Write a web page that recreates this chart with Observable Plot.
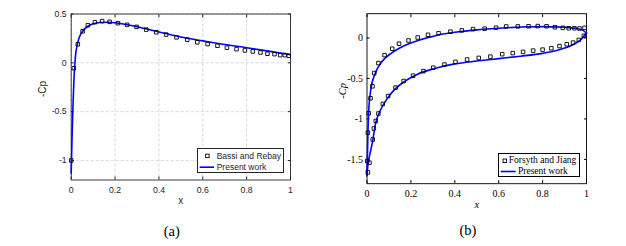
<!DOCTYPE html>
<html>
<head>
<meta charset="utf-8">
<script src="https://cdn.jsdelivr.net/npm/d3@7"></script>
<script src="https://cdn.jsdelivr.net/npm/@observablehq/plot@0.6"></script>
<style>
  html, body { margin: 0; padding: 0; background: #fff; }
  #wrap { position: relative; width: 626px; height: 246px; overflow: hidden; background: #fff; }
  #wrap > svg { position: absolute; top: 0; }
  .legend { position: absolute; background: #fff; box-sizing: border-box; }
  .legend span { position: absolute; white-space: nowrap; line-height: 1; }
  .legend svg { position: absolute; left: 0; top: 0; overflow: visible; }
  .cap { position: absolute; font-family: "Liberation Serif", serif; font-size: 14.5px; color: #000; transform: translate(-50%, -50%); line-height: 1; }
</style>
</head>
<body>
<div id="wrap"></div>
<script>
// ---------- Panel (a) data ----------
const aRefX = [0, 0.012, 0.03, 0.052, 0.076, 0.108, 0.141, 0.175, 0.213, 0.255, 0.298, 0.342, 0.388, 0.433, 0.48, 0.529, 0.575, 0.622, 0.667, 0.71, 0.754, 0.792, 0.828, 0.863, 0.895, 0.927, 0.953, 0.974, 0.992];
const aRefY = [-1.0, -0.055, 0.19, 0.323, 0.385, 0.416, 0.427, 0.42, 0.406, 0.389, 0.368, 0.34, 0.313, 0.289, 0.261, 0.237, 0.21, 0.192, 0.175, 0.155, 0.14, 0.127, 0.117, 0.106, 0.093, 0.089, 0.079, 0.079, 0.072];
const aLineX = [0, 0.004, 0.008, 0.012, 0.016, 0.02, 0.027, 0.035, 0.045, 0.06, 0.08, 0.1, 0.13, 0.17, 0.2, 0.3, 0.4, 0.5, 0.6, 0.7, 0.8, 0.9, 1];
const aLineY = [-1.13, -0.75, -0.45, -0.2, -0.03, 0.08, 0.18, 0.25, 0.3, 0.345, 0.38, 0.4, 0.413, 0.415, 0.41, 0.37, 0.315, 0.265, 0.225, 0.187, 0.155, 0.12, 0.083];
const aXTicks = [0, 0.2, 0.4, 0.6, 0.8, 1];
const aYTicks = [-1, -0.5, 0, 0.5];
const aLegend = ["Bassi and Rebay", "Present work"];

// ---------- Panel (b) data ----------
const bUpRefX = [0.001, 0.004, 0.008, 0.016, 0.025, 0.033, 0.052, 0.08, 0.115, 0.146, 0.189, 0.231, 0.278, 0.326, 0.38, 0.432, 0.483, 0.536, 0.588, 0.634, 0.687, 0.736, 0.778, 0.818, 0.856, 0.892, 0.919, 0.945, 0.968, 0.991];
const bUpRefY = [-1.52, -1.17, -0.93, -0.745, -0.597, -0.433, -0.31, -0.212, -0.133, -0.071, -0.031, 0.006, 0.039, 0.059, 0.078, 0.094, 0.11, 0.115, 0.127, 0.142, 0.143, 0.145, 0.147, 0.145, 0.133, 0.125, 0.12, 0.12, 0.117, 0.125];
const bLoRefX = [0.004, 0.011, 0.026, 0.031, 0.04, 0.052, 0.072, 0.096, 0.13, 0.167, 0.21, 0.257, 0.302, 0.353, 0.403, 0.456, 0.509, 0.562, 0.616, 0.664, 0.711, 0.757, 0.8, 0.84, 0.877, 0.91, 0.939, 0.965, 0.988];
const bLoRefY = [-1.66, -1.54, -1.254, -1.118, -1.025, -0.933, -0.815, -0.717, -0.613, -0.532, -0.466, -0.409, -0.367, -0.328, -0.295, -0.266, -0.246, -0.23, -0.2, -0.187, -0.172, -0.156, -0.144, -0.127, -0.1, -0.078, -0.057, -0.024, 0.027];
const bUpLineX = [0, 0.004, 0.008, 0.013, 0.019, 0.031, 0.045, 0.061, 0.08, 0.107, 0.135, 0.167, 0.2, 0.243, 0.3, 0.334, 0.4, 0.5, 0.6, 0.7, 0.8, 0.9, 0.95, 0.98, 1];
const bUpLineY = [-1.7, -1.2, -0.89, -0.73, -0.606, -0.483, -0.39, -0.318, -0.255, -0.195, -0.145, -0.1, -0.062, -0.022, 0.02, 0.043, 0.07, 0.1, 0.12, 0.135, 0.14, 0.132, 0.12, 0.1, 0.06];
const bLoLineX = [0, 0.005, 0.012, 0.024, 0.039, 0.061, 0.092, 0.122, 0.167, 0.228, 0.304, 0.4, 0.5, 0.6, 0.7, 0.8, 0.85, 0.9, 0.94, 0.97, 1];
const bLoLineY = [-1.7, -1.55, -1.45, -1.3, -1.057, -0.893, -0.749, -0.647, -0.544, -0.45, -0.379, -0.32, -0.285, -0.255, -0.225, -0.19, -0.165, -0.125, -0.08, -0.03, 0.06];
const bXTicks = [0, 0.2, 0.4, 0.6, 0.8, 1];
const bYTicks = [-1.5, -1, -0.5, 0];
const bLegend = ["Forsyth and Jiang", "Present work"];

const BLUE = "#0000ff";
const zipXY = (xs, ys) => xs.map((x, i) => ({x, y: ys[i]}));
const fmt = d => String(d);

const wrap = document.getElementById("wrap");

// ---------- Panel (a) ----------
const axA = "#262626";
const plotA = Plot.plot({
  width: 313, height: 246,
  marginLeft: 70.7, marginRight: 23, marginTop: 13.5, marginBottom: 66.5,
  x: {domain: [0, 1]},
  y: {domain: [-1.2, 0.5]},
  style: {fontFamily: "'Liberation Sans', Arial, sans-serif", fontSize: "8.7px", color: axA, background: "transparent", overflow: "visible"},
  marks: [
    Plot.gridX(aXTicks, {stroke: "#cfcfcf", strokeOpacity: 1, strokeWidth: 0.8, strokeDasharray: "3,2"}),
    Plot.gridY(aYTicks, {stroke: "#cfcfcf", strokeOpacity: 1, strokeWidth: 0.8, strokeDasharray: "3,2"}),
    Plot.axisX(aXTicks, {anchor: "bottom", tickSize: -3, tickPadding: 10, tickFormat: fmt, label: null, stroke: axA}),
    Plot.axisX(aXTicks, {anchor: "top", tickSize: -3, tickFormat: () => "", label: null, stroke: axA}),
    Plot.axisY(aYTicks, {anchor: "left", tickSize: -3, tickPadding: 7.5, tickFormat: fmt, label: null, stroke: axA}),
    Plot.axisY(aYTicks, {anchor: "right", tickSize: -3, tickFormat: () => "", label: null, stroke: axA}),
    Plot.frame({stroke: axA, strokeWidth: 0.9}),
    Plot.line(zipXY(aLineX, aLineY), {x: "x", y: "y", stroke: BLUE, strokeWidth: 1.6, curve: "monotone-x"}),
    Plot.dot(zipXY(aRefX, aRefY), {x: "x", y: "y", symbol: "square", r: 2, stroke: "#000", strokeWidth: 0.9, fill: "none"}),
    Plot.text(["x"], {text: d => d, frameAnchor: "bottom", dy: 24, fontSize: 10, fill: axA}),
    Plot.text(["-Cp"], {text: d => d, frameAnchor: "left", rotate: -90, dx: -28, fontSize: 10, fill: axA})
  ]
});
plotA.style.left = "0px";
wrap.appendChild(plotA);

// ---------- Panel (b) ----------
const axB = "#000";
const plotB = Plot.plot({
  width: 313, height: 246,
  marginLeft: 53.5, marginRight: 40, marginTop: 13.2, marginBottom: 62.8,
  x: {domain: [0, 1]},
  y: {domain: [-1.8, 0.3]},
  style: {fontFamily: "'Liberation Serif', 'Times New Roman', serif", fontSize: "10px", color: axB, background: "transparent", overflow: "visible"},
  marks: [
    Plot.axisX(bXTicks, {anchor: "bottom", tickSize: -3, tickPadding: 9.5, tickFormat: fmt, label: null, stroke: axB}),
    Plot.axisX(bXTicks, {anchor: "top", tickSize: -3, tickFormat: () => "", label: null, stroke: axB}),
    Plot.axisY(bYTicks, {anchor: "left", tickSize: -3, tickPadding: 7, tickFormat: fmt, label: null, stroke: axB}),
    Plot.axisY(bYTicks, {anchor: "right", tickSize: -3, tickFormat: () => "", label: null, stroke: axB}),
    Plot.frame({stroke: axB, strokeWidth: 0.9}),
    Plot.line(zipXY(bUpLineX, bUpLineY), {x: "x", y: "y", stroke: BLUE, strokeWidth: 1.6, curve: "monotone-x"}),
    Plot.line(zipXY(bLoLineX, bLoLineY), {x: "x", y: "y", stroke: BLUE, strokeWidth: 1.6, curve: "monotone-x"}),
    Plot.dot(zipXY(bUpRefX, bUpRefY), {x: "x", y: "y", symbol: "square", r: 2, stroke: "#000", strokeWidth: 0.9, fill: "none"}),
    Plot.dot(zipXY(bLoRefX, bLoRefY), {x: "x", y: "y", symbol: "square", r: 2, stroke: "#000", strokeWidth: 0.9, fill: "none"}),
    Plot.text(["x"], {text: d => d, frameAnchor: "bottom", dy: 24, fontSize: 10.5, fontStyle: "italic", fill: axB}),
    Plot.text(["-Cp"], {text: d => d, frameAnchor: "left", rotate: -90, dx: -24, fontSize: 10.5, fontStyle: "italic", fill: axB})
  ]
});
plotB.style.left = "313px";
wrap.appendChild(plotB);

// ---------- Legends ----------
function legend(opts) {
  const div = document.createElement("div");
  div.className = "legend";
  Object.assign(div.style, {
    left: opts.left + "px", top: opts.top + "px", width: opts.w + "px", height: opts.h + "px",
    border: "0.9px solid " + opts.color, fontFamily: opts.font, fontSize: opts.size + "px", color: opts.color
  });
  const ns = "http://www.w3.org/2000/svg";
  const svg = document.createElementNS(ns, "svg");
  svg.setAttribute("width", opts.w); svg.setAttribute("height", opts.h);
  const sq = document.createElementNS(ns, "rect");
  sq.setAttribute("x", opts.sqX - 1.75); sq.setAttribute("y", opts.row1 - 1.75);
  sq.setAttribute("width", 3.5); sq.setAttribute("height", 3.5);
  sq.setAttribute("fill", "none"); sq.setAttribute("stroke", "#000"); sq.setAttribute("stroke-width", 0.9);
  svg.appendChild(sq);
  const ln = document.createElementNS(ns, "line");
  ln.setAttribute("x1", opts.lineX1); ln.setAttribute("x2", opts.lineX2);
  ln.setAttribute("y1", opts.row2); ln.setAttribute("y2", opts.row2);
  ln.setAttribute("stroke", BLUE); ln.setAttribute("stroke-width", 1.6);
  svg.appendChild(ln);
  div.appendChild(svg);
  const t1 = document.createElement("span");
  t1.textContent = opts.labels[0];
  Object.assign(t1.style, {left: opts.t1X + "px", top: (opts.row1 - opts.size * 0.5) + "px"});
  const t2 = document.createElement("span");
  t2.textContent = opts.labels[1];
  Object.assign(t2.style, {left: opts.t2X + "px", top: (opts.row2 - opts.size * 0.5) + "px"});
  div.appendChild(t1); div.appendChild(t2);
  wrap.appendChild(div);
}
legend({left: 197.3, top: 148.3, w: 86.4, h: 25, color: "#262626", font: "'Liberation Sans', Arial, sans-serif", size: 8.5,
  sqX: 9.4, row1: 6.9, row2: 18.2, lineX1: 1.7, lineX2: 16, t1X: 18.4, t2X: 18.4, labels: aLegend});
legend({left: 498, top: 153.3, w: 81.7, h: 23.4, color: "#000", font: "'Liberation Serif', 'Times New Roman', serif", size: 9.5,
  sqX: 5.8, row1: 6.8, row2: 17.5, lineX1: 1.7, lineX2: 16.7, t1X: 9.8, t2X: 19, labels: bLegend});

// ---------- Captions ----------
[["(a)", 171.7, 231], ["(b)", 468, 230]].forEach(([t, x, y]) => {
  const c = document.createElement("div");
  c.className = "cap"; c.textContent = t;
  c.style.left = x + "px"; c.style.top = y + "px";
  wrap.appendChild(c);
});
</script>
</body>
</html>
